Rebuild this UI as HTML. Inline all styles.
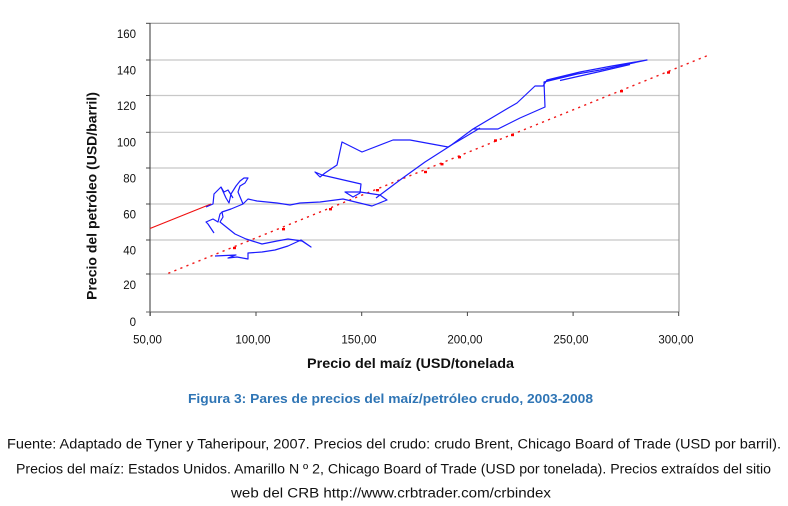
<!DOCTYPE html>
<html>
<head>
<meta charset="utf-8">
<style>
  html, body { margin: 0; padding: 0; background: #fff; }
  body { width: 788px; height: 506px; overflow: hidden; }
  svg { display: block; }
  text { font-family: "Liberation Sans", Arial, sans-serif; }
</style>
</head>
<body>
<svg width="788" height="506" viewBox="0 0 788 506" xmlns="http://www.w3.org/2000/svg">
  <rect x="0" y="0" width="788" height="506" fill="#fff"/>

  <!-- gridlines -->
  <g stroke="#c8c8c8" stroke-width="1.2">
    <line x1="150" y1="60" x2="679" y2="60"/>
    <line x1="150" y1="95.5" x2="679" y2="95.5"/>
    <line x1="150" y1="132.3" x2="679" y2="132.3"/>
    <line x1="150" y1="168" x2="679" y2="168"/>
    <line x1="150" y1="204" x2="679" y2="204"/>
    <line x1="150" y1="240" x2="679" y2="240"/>
    <line x1="150" y1="274" x2="679" y2="274"/>
  </g>

  <!-- plot box -->
  <line x1="150" y1="23.3" x2="679" y2="23.3" stroke="#8a8a8a" stroke-width="1"/>
  <line x1="679" y1="23.3" x2="679" y2="312" stroke="#8a8a8a" stroke-width="1"/>
  <line x1="150" y1="23" x2="150" y2="316" stroke="#333" stroke-width="1"/>
  <line x1="146" y1="312" x2="679" y2="312" stroke="#666" stroke-width="1"/>

  <!-- y ticks -->
  <g stroke="#444" stroke-width="1">
    <line x1="146" y1="23.3" x2="150" y2="23.3"/>
    <line x1="146" y1="60" x2="150" y2="60"/>
    <line x1="146" y1="95.5" x2="150" y2="95.5"/>
    <line x1="146" y1="132.3" x2="150" y2="132.3"/>
    <line x1="146" y1="168" x2="150" y2="168"/>
    <line x1="146" y1="204" x2="150" y2="204"/>
    <line x1="146" y1="240" x2="150" y2="240"/>
    <line x1="146" y1="274" x2="150" y2="274"/>
  </g>
  <!-- x ticks -->
  <g stroke="#444" stroke-width="1">
    <line x1="150.3" y1="312" x2="150.3" y2="316"/>
    <line x1="256" y1="312" x2="256" y2="316"/>
    <line x1="361.7" y1="312" x2="361.7" y2="316"/>
    <line x1="467.4" y1="312" x2="467.4" y2="316"/>
    <line x1="573.1" y1="312" x2="573.1" y2="316"/>
    <line x1="678.7" y1="312" x2="678.7" y2="316"/>
  </g>

  <!-- y tick labels -->
  <g font-size="11.5" fill="#111" text-anchor="end">
    <text x="136" y="38">160</text>
    <text x="136" y="74.3">140</text>
    <text x="136" y="109.8">120</text>
    <text x="136" y="146.6">100</text>
    <text x="136" y="182.3">80</text>
    <text x="136" y="218.3">60</text>
    <text x="136" y="254.3">40</text>
    <text x="136" y="288.8">20</text>
    <text x="136" y="326">0</text>
  </g>

  <!-- x tick labels -->
  <g font-size="11.5" fill="#111" text-anchor="middle">
    <text x="147.5" y="343.5">50,00</text>
    <text x="253" y="343.5">100,00</text>
    <text x="359" y="343.5">150,00</text>
    <text x="465" y="343.5">200,00</text>
    <text x="571" y="343.5">250,00</text>
    <text x="676" y="343.5">300,00</text>
  </g>

  <!-- axis titles -->
  <text x="307" y="368" font-size="14" font-weight="bold" fill="#111" textLength="207" lengthAdjust="spacingAndGlyphs">Precio del maíz (USD/tonelada</text>
  <text transform="translate(96.5,196) rotate(-90)" text-anchor="middle" font-size="14" font-weight="bold" fill="#111">Precio del petróleo (USD/barril)</text>

  <!-- red solid line -->
  <line x1="150" y1="228.5" x2="211" y2="204" stroke="#f01010" stroke-width="1.2"/>

  <!-- red dotted trend line -->
  <line x1="168.3" y1="273.3" x2="710.7" y2="54.3" stroke="#f01818" stroke-width="1.4" stroke-dasharray="2.2 4.3"/>
  <g fill="#f00">
    <rect x="233" y="246.8" width="3" height="2.4"/>
    <rect x="282" y="228" width="3" height="2.4"/>
    <rect x="329" y="208" width="3" height="2.4"/>
    <rect x="376" y="189" width="3" height="2.4"/>
    <rect x="424" y="170.8" width="3" height="2.4"/>
    <rect x="440.5" y="163" width="3" height="2.4"/>
    <rect x="458" y="156" width="3" height="2.4"/>
    <rect x="494" y="139.3" width="3" height="2.4"/>
    <rect x="511" y="133.8" width="3" height="2.4"/>
    <rect x="620" y="90" width="3" height="2.4"/>
    <rect x="667" y="71.3" width="3" height="2.4"/>
  </g>

  <!-- blue series -->
  <g fill="none" stroke="#1c1cff" stroke-width="1.2" stroke-linejoin="round">
    <polyline points="215,256 236,255 228,258 237,257 248,259 248,253 262,252 275,250 288,246 301,240 311,247 302,241 288,239 277,241 262,244 246,239 235,234 220,222 223,217 222,212 220,214 218,222 213,219 206,222 208,224 214,233"/>
    <polyline points="222,212 231,209 243,204"/>
    <polyline points="206,207 213,204 214,194 221,187 226,198 229,203 231,194 236,186 240,181 244,178 248,178 245,183 240,186 238,192 243,204 248,199 257,201 277,203 290,205 300,203 320,202 343,199 372,206 387,200 380,195 360,192 345,192 353,197 360,193 361,184 322,175 315,172 320,177 325,173 337,165 342,142 362,152 393,140 410,140 448,147 465,137 480,128"/>
    <polyline points="221,187 224,192 228,190 233,198"/>
    <polyline points="376,198 400,180 425,162 450,146 473,129 498,129 520,118 545,107 544,82 577,74 600,70 647,60 612,66 580,72 547,80 543,86 535,86 517,103 510,107 473,129"/>
    <polyline points="560,80.5 600,71.5 630,64.5"/>
  </g>

  <!-- caption -->
  <text x="188" y="403" font-size="13" font-weight="bold" fill="#2f75b5" textLength="405" lengthAdjust="spacingAndGlyphs">Figura 3: Pares de precios del maíz/petróleo crudo, 2003-2008</text>

  <!-- footer -->
  <g font-size="13.5" fill="#111">
    <text x="7" y="448.5" textLength="774" lengthAdjust="spacingAndGlyphs">Fuente: Adaptado de Tyner y Taheripour, 2007. Precios del crudo: crudo Brent, Chicago Board of Trade (USD por barril).</text>
    <text x="16" y="473.5" textLength="755" lengthAdjust="spacingAndGlyphs">Precios del maíz: Estados Unidos. Amarillo N º 2, Chicago Board of Trade (USD por tonelada). Precios extraídos del sitio</text>
    <text x="231" y="497.5" textLength="320" lengthAdjust="spacingAndGlyphs">web del CRB http://www.crbtrader.com/crbindex</text>
  </g>
</svg>
</body>
</html>
